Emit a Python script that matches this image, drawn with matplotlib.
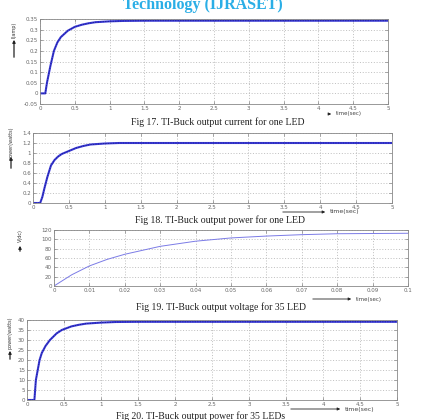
import matplotlib
matplotlib.use("Agg")
import matplotlib.pyplot as plt

# Fig 17: output current for one LED
t_current = [0, 0.076, 0.1, 0.15, 0.2, 0.25, 0.3, 0.4, 0.5, 0.6, 0.7, 0.8, 1.0, 1.2, 1.5, 2.0, 5.0]
current = [0, 0, 0.05, 0.13, 0.2, 0.24, 0.265, 0.295, 0.313, 0.323, 0.33, 0.335, 0.339, 0.341, 0.342, 0.342, 0.342]

# Fig 18: output power for one LED
t_power1 = [0, 0.1, 0.13, 0.16, 0.2, 0.25, 0.3, 0.35, 0.4, 0.5, 0.6, 0.7, 0.8, 1.0, 1.2, 1.5, 5.0]
power1 = [0, 0, 0.12, 0.3, 0.52, 0.75, 0.86, 0.93, 0.98, 1.04, 1.1, 1.14, 1.17, 1.19, 1.2, 1.2, 1.2]

# Fig 19: output voltage for 35 LED
t_voltage = [0, 0.005, 0.01, 0.015, 0.02, 0.03, 0.04, 0.05, 0.06, 0.07, 0.08, 0.09, 0.1]
voltage = [0, 24, 43, 57, 68, 85, 96, 103, 107, 110, 112, 112.5, 113]

# Fig 20: output power for 35 LEDs
t_power35 = [0, 0.1, 0.12, 0.15, 0.17, 0.2, 0.25, 0.31, 0.4, 0.47, 0.6, 0.7, 0.8, 1.0, 1.2, 1.5, 5.0]
power35 = [0, 0, 10, 16, 20, 23.5, 27, 30, 33.3, 35, 36.8, 37.6, 38.2, 38.7, 39, 39.1, 39.1]

W, H = 423, 420
fig = plt.figure(figsize=(W / 100, H / 100), dpi=100)
fig.patch.set_facecolor("white")


def px_rect(left, top, right, bottom):
    return [left / W, 1 - bottom / H, (right - left) / W, (bottom - top) / H]


def style_axes(ax, xticks, yticks, xlabels, ylabels):
    ax.set_xticks(xticks)
    ax.set_yticks(yticks)
    ax.set_xticklabels(xlabels)
    ax.set_yticklabels(ylabels)
    ax.grid(True, linestyle=(0, (1.5, 2.5)), color="#aaaaaa", linewidth=0.5)
    ax.tick_params(direction="in", length=2, width=0.4, labelsize=4, colors="#666666",
                   top=True, right=True, pad=1.5)
    for s in ax.spines.values():
        s.set_color("#888888")
        s.set_linewidth(0.6)


def fmt(v):
    return f"{v:g}"


def ylabel_arrow(x, ytext, yarrow0, yarrow1, text, size=3.5):
    fig.text(x / W, 1 - ytext / H, text, rotation=90, ha="center", va="center",
             fontsize=size, color="#333333")
    fig.add_artist(matplotlib.patches.FancyArrowPatch(
        (x / W, 1 - yarrow0 / H), (x / W, 1 - yarrow1 / H), transform=fig.transFigure,
        arrowstyle="-|>", mutation_scale=4, color="#222222", linewidth=0.9))


def xlabel_arrow(x0, x1, y, text, size=4):
    fig.add_artist(matplotlib.patches.FancyArrowPatch(
        (x0 / W, 1 - y / H), (x1 / W, 1 - y / H), transform=fig.transFigure,
        arrowstyle="-|>", mutation_scale=4, color="#222222", linewidth=0.6))
    fig.text((x1 + 2) / W, 1 - y / H, text, ha="left", va="center", fontsize=size, color="#444444")


def thick_curve(ax, t, y):
    ax.plot(t, y, color="#3a3ad8", linewidth=1.5, solid_capstyle="butt")
    ax.plot(t, y, color="#1c1c8a", linewidth=0.6, linestyle=(0, (1.5, 1.5)))


caption_kw = dict(ha="center", va="center", fontsize=7, family="Liberation Serif", color="#222222")

fig.text(203 / W, 1 - 5 / H, "Technology (IJRASET)", ha="center", va="center", fontsize=11.5,
         fontweight="bold", family="Liberation Serif", color="#2aaee6")

# Panel 1
ax1 = fig.add_axes(px_rect(40, 19, 388, 104))
thick_curve(ax1, t_current, current)
ax1.set_xlim(0, 5)
ax1.set_ylim(-0.05, 0.35)
xt = [i * 0.5 for i in range(11)]
yt = [-0.05 + i * 0.05 for i in range(9)]
style_axes(ax1, xt, yt, [fmt(v) for v in xt], ["-0.05", "0", "0.05", "0.1", "0.15", "0.2", "0.25", "0.3", "0.35"])
ylabel_arrow(14, 30, 60, 37, "I(amp)")
xlabel_arrow(326, 334, 114, "time(sec)")
fig.text(218 / W, 1 - 122 / H, "Fig 17. TI-Buck output current for one LED", **caption_kw)

# Panel 2
ax2 = fig.add_axes(px_rect(33, 133, 392, 203))
thick_curve(ax2, t_power1, power1)
ax2.set_xlim(0, 5)
ax2.set_ylim(0, 1.4)
yt = [i * 0.2 for i in range(8)]
style_axes(ax2, xt, yt, [fmt(v) for v in xt], ["0", "0.2", "0.4", "0.6", "0.8", "1", "1.2", "1.4"])
ylabel_arrow(11, 143, 171, 154, "power(watts)")
xlabel_arrow(280, 328, 212, "time(sec)", size=4.5)
fig.text(220 / W, 1 - 220 / H, "Fig 18. TI-Buck output power for one LED", **caption_kw)

# Panel 3
ax3 = fig.add_axes(px_rect(54, 230, 408, 286))
ax3.plot(t_voltage, voltage, color="#7b7be6", linewidth=0.7)
ax3.set_xlim(0, 0.1)
ax3.set_ylim(0, 120)
xt3 = [i * 0.01 for i in range(11)]
yt3 = [i * 20 for i in range(7)]
style_axes(ax3, xt3, yt3, ["0"] + [f"{v:.2f}" for v in xt3[1:-1]] + ["0.1"], [str(v) for v in yt3])
ylabel_arrow(20, 236, 254, 243, "V(dc)")
xlabel_arrow(310, 354, 299, "time(sec)")
fig.text(221 / W, 1 - 307 / H, "Fig 19. TI-Buck output voltage for 35 LED", **caption_kw)

# Panel 4
ax4 = fig.add_axes(px_rect(27, 320, 397, 400))
thick_curve(ax4, t_power35, power35)
ax4.set_xlim(0, 5)
ax4.set_ylim(0, 40)
yt4 = [i * 5 for i in range(9)]
style_axes(ax4, xt, yt4, [fmt(v) for v in xt], [str(v) for v in yt4])
ylabel_arrow(10, 333, 362, 348, "power(watts)")
xlabel_arrow(288, 343, 409, "time(sec)", size=4.5)
fig.text(201 / W, 1 - 416.5 / H, "Fig 20. TI-Buck output power for 35 LEDs", **caption_kw)

fig.savefig("out.png", dpi=100)
